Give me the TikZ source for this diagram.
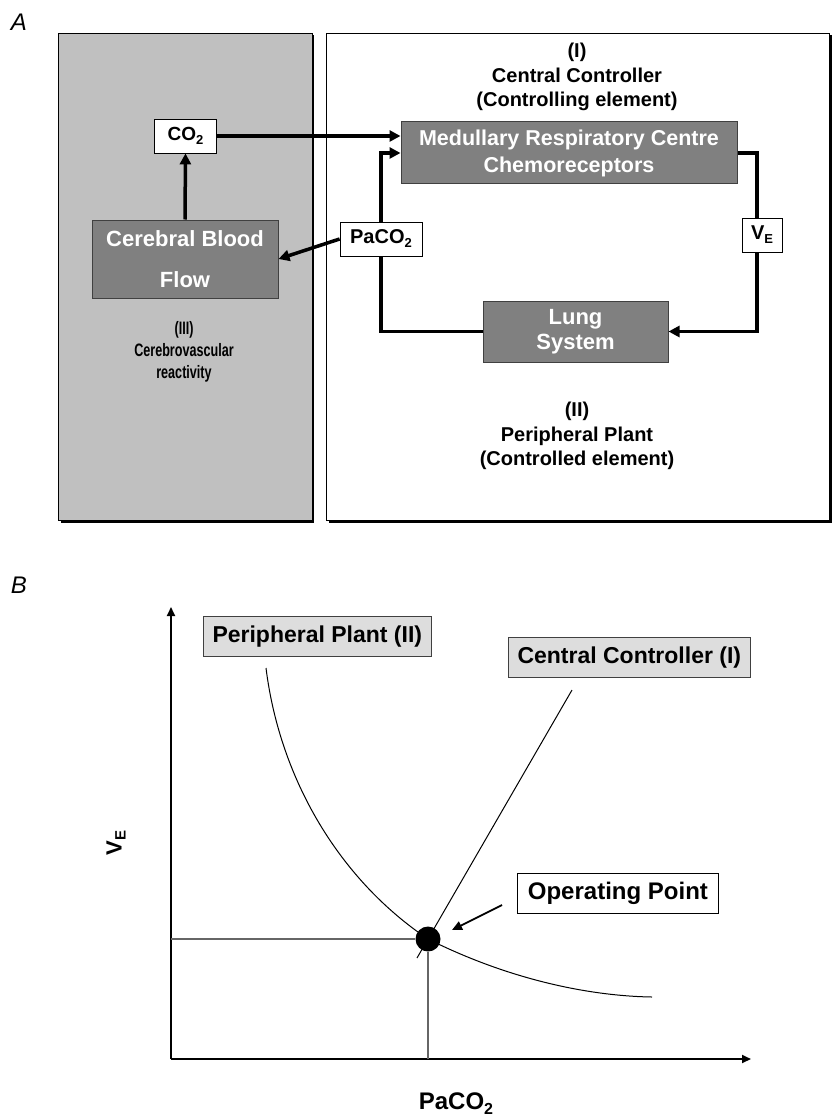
\documentclass[tikz,border=0pt]{standalone}
\usepackage{fontspec}
\setmainfont{Liberation Sans}
\usepackage{graphicx}
\usetikzlibrary{arrows.meta}
\definecolor{panelgray}{HTML}{C0C0C0}
\definecolor{boxgray}{HTML}{808080}
\definecolor{labelgray}{HTML}{DDDDDD}
\newcommand{\fs}[2]{\fontsize{#1}{#2}\selectfont}
\newcommand{\lowsub}[2]{\raisebox{-#2}{\fontsize{#1}{#1}\selectfont 2}}
\newcommand{\lowE}[2]{\raisebox{-#2}{\fontsize{#1}{#1}\selectfont E}}
\newcommand{\narrow}[1]{\scalebox{0.7}[1]{#1}}
\begin{document}
\begin{tikzpicture}[x=1pt,y=-1pt,
  panel/.style={draw=black, line width=0.8pt, inner sep=0pt},
  thickarrow/.style={line width=3.5pt, -{Triangle[length=11pt,width=11pt]}},
  loopline/.style={line width=3.5pt},
  darkbox/.style={draw=black!75, line width=1pt, fill=boxgray, text=white, align=center, inner sep=0pt},
  whitebox/.style={draw=black, line width=0.8pt, fill=white, inner sep=0pt},
  lbl/.style={align=center, inner sep=0pt},
  graylabel/.style={draw=black!75, line width=1pt, fill=labelgray, inner sep=0pt},
  axis/.style={line width=1.8pt, -{Triangle[length=9pt,width=8pt]}},
  guide/.style={line width=1.8pt, black!60},
  curve/.style={line width=1pt},
]
\useasboundingbox (0,0) rectangle (833,1118);
\fill[white] (0,0) rectangle (833,1118);

% ---------- Panel A ----------
\node[font=\itshape\fs{24}{24}] (labA) at (19,22) {A};

\fill[black] (60.5,35.5) rectangle (314,522.5);
\node[panel, fill=panelgray, minimum width=254pt, minimum height=487pt] (gpanel) at (185,276.5) {};
\fill[black] (328.5,35.5) rectangle (831.5,522.5);
\node[panel, fill=white, minimum width=503pt, minimum height=487pt] (wpanel) at (577.5,276.5) {};

\node[whitebox, minimum width=62pt, minimum height=34pt, font=\bfseries\fs{19}{19}] (co2) at (185.5,136) {CO\lowsub{13}{4pt}};
\node[darkbox, minimum width=186pt, minimum height=78pt, font=\bfseries\fs{22}{41}] (cbf) at (185,259) {Cerebral Blood\\Flow};
\node[whitebox, minimum width=82pt, minimum height=34pt, font=\bfseries\fs{20}{20}] (paco2) at (381,239) {PaCO\lowsub{13}{4pt}};
\node[darkbox, minimum width=336pt, minimum height=62pt, font=\bfseries\fs{21.5}{27}] (med) at (569,153) {Medullary Respiratory Centre\\Chemoreceptors};
\node[whitebox, minimum width=40pt, minimum height=34pt, font=\bfseries\fs{20}{20}] (ve) at (762,235) {V\lowE{13}{4pt}};
\node[darkbox, minimum width=185pt, minimum height=61pt, font=\bfseries\fs{22}{25}] (lung) at (575.5,331.5) {Lung\\System};

\node[lbl, font=\bfseries\fs{20}{24.5}] (ctrl) at (577,77) {(I)\\Central Controller\\(Controlling element)};
\node[lbl, font=\bfseries\fs{20}{24.5}] (plant) at (577,436) {(II)\\Peripheral Plant\\(Controlled element)};
\node[lbl, font=\bfseries\fs{18}{22}] (cvr) at (184,352) {\narrow{(III)}\\\narrow{Cerebrovascular}\\\narrow{reactivity}};

\coordinate (rx) at (757,0);
\draw[thickarrow] (co2.east) -- (co2.east -| med.west);
\draw[thickarrow] (cbf.north) -- (co2.south);
\draw[thickarrow] (paco2.west) -- (cbf.east);
\draw[loopline] (lung.west) -| (paco2.south);
\draw[loopline, -{Triangle[length=11pt,width=11pt]}] (paco2.north) |- (med.west);
\draw[loopline] (med.east) -- (med.east -| rx) -- (ve.north -| rx);
\draw[loopline, -{Triangle[length=11pt,width=11pt]}] (ve.south -| rx) -- (lung.east -| rx) -- (lung.east);

% ---------- Panel B ----------
\node[font=\itshape\fs{24}{24}] (labB) at (19,585) {B};

\coordinate (origin) at (171,1059);
\coordinate (ytip) at (171,607);
\coordinate (xtip) at (751,1059);
\draw[axis] (origin) -- (ytip);
\draw[axis] (origin) -- (xtip);

\node[circle, fill=black, minimum size=25pt, inner sep=0pt] (op) at (428,939) {};
\coordinate (pstart) at (266,668);
\coordinate (pend) at (652,997);
\coordinate (cstart) at (572,690);
\coordinate (cend) at (417,958);
\draw[guide] (op.west -| origin) -- (op.west);
\draw[guide] (op.south) -- (op.south |- origin);
\draw[curve] (pstart) .. controls (280,780) and (340,880) .. (op.center) .. controls (510,980) and (590,996) .. (pend);
\draw[curve] (cstart) -- (cend);

\node[graylabel, anchor=north west, minimum height=40pt, inner xsep=9pt, font=\bfseries\fs{23}{23}] (pp) at (203,616) {Peripheral Plant (II)};
\node[graylabel, anchor=north west, minimum height=40pt, inner xsep=9pt, font=\bfseries\fs{23}{23}] (cc) at (508,637) {Central Controller (I)};
\node[whitebox, anchor=north west, minimum width=201pt, minimum height=40pt, font=\bfseries\fs{24}{24}] (opl) at (517,873) {Operating Point};
\coordinate (oparr) at (502,905);
\coordinate (optip) at (452,930);
\draw[line width=1.8pt, -{Triangle[length=10pt,width=9pt]}] (oparr) -- (optip);

\node[rotate=90, font=\bfseries\fs{22}{22}] (vel) at (116,843) {V\lowE{15}{4pt}};
\node[font=\bfseries\fs{24}{24}] (pal) at (456,1104) {PaCO\lowsub{16}{5pt}};
\end{tikzpicture}
\end{document}
